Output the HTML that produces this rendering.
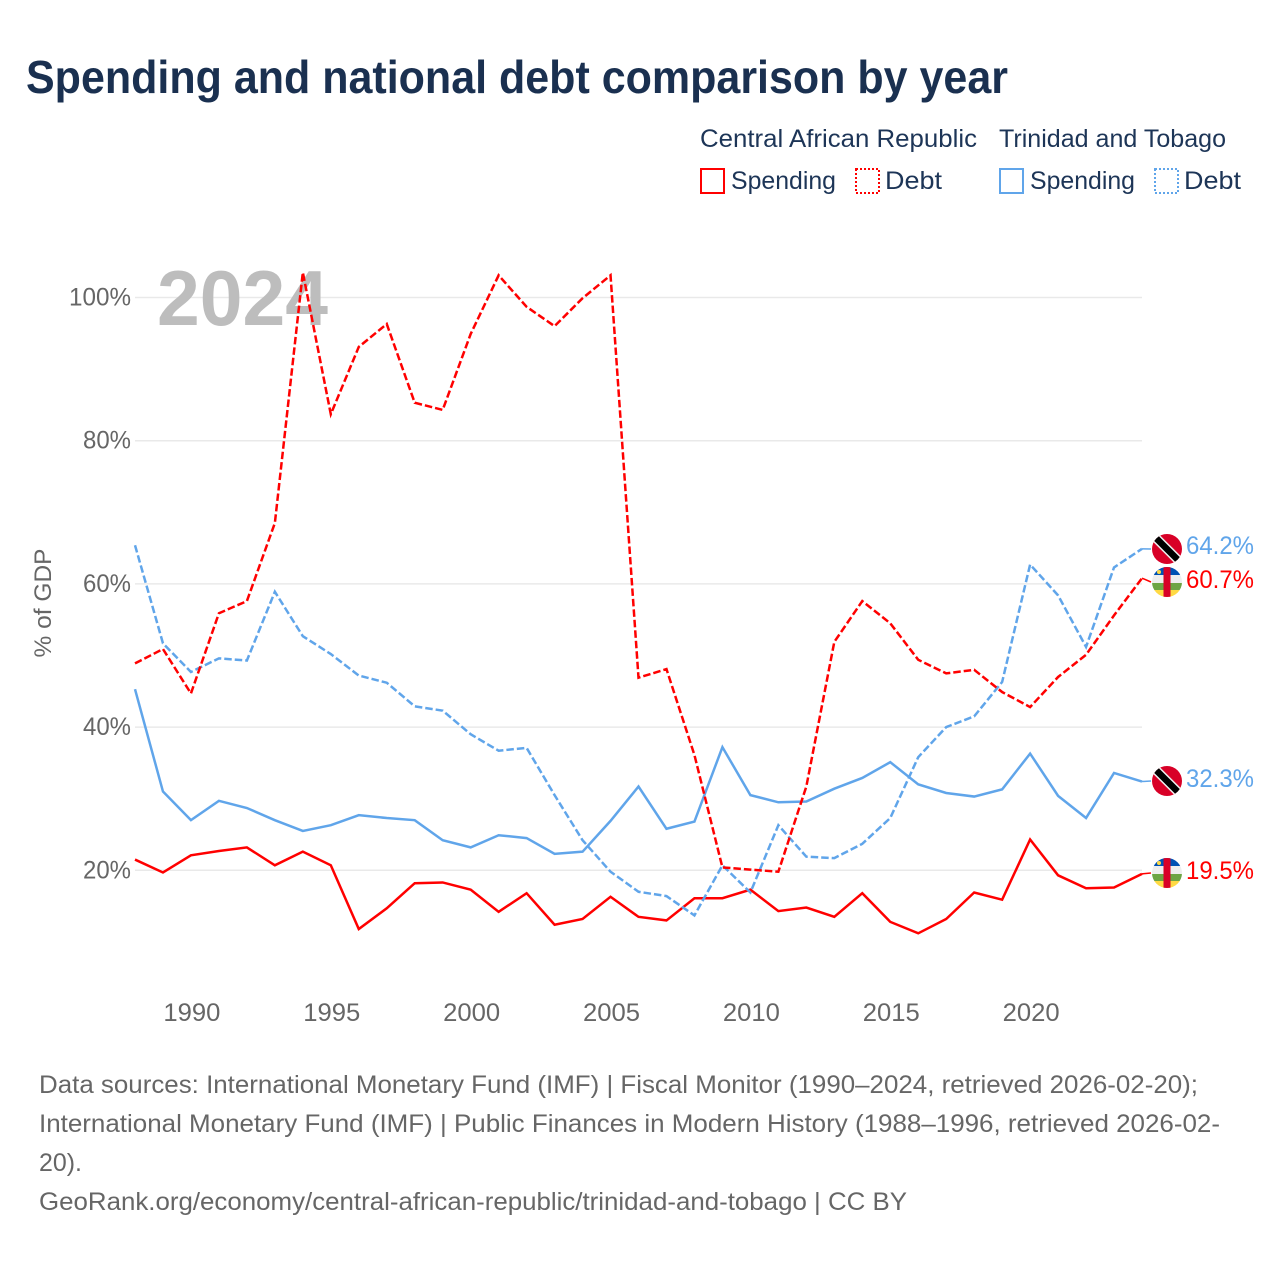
<!DOCTYPE html>
<html lang="en">
<head>
<meta charset="utf-8">
<title>Spending and national debt comparison by year</title>
<style>
html,body{margin:0;padding:0;background:#fff;width:1280px;height:1280px;overflow:hidden}
svg{display:block}
text{font-family:"Liberation Sans",sans-serif}
.leg{font-size:25px;fill:#1d3557}
.src{font-size:25px;fill:#666}
.tick{font-size:25px;fill:#666}
</style>
</head>
<body>
<svg id="chart" xmlns="http://www.w3.org/2000/svg" width="1280" height="1280" viewBox="0 0 1280 1280">
<defs>
<clipPath id="flag-clip"><circle cx="0" cy="0" r="15"/></clipPath>
<g id="flag-tt">
<g clip-path="url(#flag-clip)">
<rect x="-15" y="-15" width="30" height="30" fill="#d80027"/>
<line x1="-17" y1="-17" x2="17" y2="17" stroke="#f0f0f0" stroke-width="9.5"/>
<line x1="-17" y1="-17" x2="17" y2="17" stroke="#000" stroke-width="6.5"/>
</g>
</g>
<g id="flag-car">
<g clip-path="url(#flag-clip)">
<rect x="-15" y="-15" width="30" height="8" fill="#0052b4"/>
<rect x="-15" y="-7" width="30" height="8" fill="#eeeeee"/>
<rect x="-15" y="1" width="30" height="7" fill="#6da544"/>
<rect x="-15" y="8" width="30" height="7" fill="#ffda44"/>
<rect x="-3.5" y="-15" width="7" height="30" fill="#d80027"/>
<circle cx="-8" cy="-10" r="2" fill="#ffda44"/>
</g>
</g>
</defs>

<text x="26" y="93" font-size="46" font-weight="700" fill="#1a3050" textLength="982" lengthAdjust="spacingAndGlyphs">Spending and national debt comparison by year</text>

<g>
<text class="leg" x="700" y="147" textLength="277" lengthAdjust="spacingAndGlyphs">Central African Republic</text>
<text class="leg" x="999" y="147" textLength="227" lengthAdjust="spacingAndGlyphs">Trinidad and Tobago</text>
<rect x="701" y="169" width="23" height="24" fill="none" stroke="#ff0000" stroke-width="2"/>
<text class="leg" x="731" y="189" textLength="105" lengthAdjust="spacingAndGlyphs">Spending</text>
<rect x="856" y="169" width="23" height="24" fill="none" stroke="#ff0000" stroke-width="2" stroke-dasharray="2,2"/>
<text class="leg" x="885" y="189" textLength="57" lengthAdjust="spacingAndGlyphs">Debt</text>
<rect x="1000" y="169" width="23" height="24" fill="none" stroke="#60a5ea" stroke-width="2"/>
<text class="leg" x="1030" y="189" textLength="105" lengthAdjust="spacingAndGlyphs">Spending</text>
<rect x="1155" y="169" width="23" height="24" fill="none" stroke="#60a5ea" stroke-width="2" stroke-dasharray="2,2"/>
<text class="leg" x="1184" y="189" textLength="57" lengthAdjust="spacingAndGlyphs">Debt</text>
</g>

<text transform="translate(51,603) rotate(-90)" text-anchor="middle" font-size="24" fill="#666" textLength="109" lengthAdjust="spacingAndGlyphs">% of GDP</text>

<g id="grid"></g>
<text x="157" y="325" font-size="78" font-weight="700" fill="#bdbdbd" textLength="171" lengthAdjust="spacingAndGlyphs">2024</text>
<g id="yticks"></g>
<g id="xticks"></g>
<g id="series"></g>
<g id="ends"></g>

<g>
<text class="src" x="39" y="1093" textLength="1159" lengthAdjust="spacingAndGlyphs">Data sources: International Monetary Fund (IMF) | Fiscal Monitor (1990–2024, retrieved 2026-02-20);</text>
<text class="src" x="39" y="1132" textLength="1181" lengthAdjust="spacingAndGlyphs">International Monetary Fund (IMF) | Public Finances in Modern History (1988–1996, retrieved 2026-02-</text>
<text class="src" x="39" y="1171" textLength="43" lengthAdjust="spacingAndGlyphs">20).</text>
<text class="src" x="39" y="1210" textLength="868" lengthAdjust="spacingAndGlyphs">GeoRank.org/economy/central-african-republic/trinidad-and-tobago | CC BY</text>
</g>
</svg>

<script>
const years = [1988,1989,1990,1991,1992,1993,1994,1995,1996,1997,1998,1999,2000,2001,2002,2003,2004,2005,2006,2007,2008,2009,2010,2011,2012,2013,2014,2015,2016,2017,2018,2019,2020,2021,2022,2023,2024];
const carSpending = [21.5,19.7,22.1,22.7,23.2,20.7,22.6,20.7,11.8,14.7,18.2,18.3,17.3,14.2,16.8,12.4,13.2,16.3,13.5,13.0,16.1,16.1,17.3,14.3,14.8,13.5,16.8,12.8,11.2,13.2,16.9,15.9,24.3,19.3,17.5,17.6,19.5];
const carDebt = [48.9,50.9,44.7,55.9,57.6,68.5,103.5,83.7,93.1,96.3,85.3,84.3,94.9,103.1,98.7,96.0,99.9,103.1,46.9,48.1,36.1,20.4,20.1,19.8,31.7,51.9,57.6,54.5,49.4,47.5,48.0,44.9,42.8,47.0,50.1,55.6,60.8];
const ttSpending = [45.3,31.0,27.0,29.7,28.7,27.0,25.5,26.3,27.7,27.3,27.0,24.2,23.2,24.9,24.5,22.3,22.6,26.9,31.7,25.8,26.8,37.2,30.5,29.5,29.6,31.4,32.9,35.1,32.0,30.8,30.3,31.3,36.3,30.4,27.3,33.6,32.4];
const ttDebt = [65.4,51.7,47.7,49.6,49.3,58.9,52.7,50.2,47.2,46.2,42.9,42.3,39.0,36.7,37.1,30.5,24.2,19.8,17.0,16.4,13.7,20.7,16.9,26.3,21.9,21.7,23.7,27.3,35.8,40.0,41.5,46.3,62.7,58.4,51.2,62.3,64.9];
const yTickValues = [20,40,60,80,100];
const xTickValues = [1990,1995,2000,2005,2010,2015,2020];
const endLabelTexts = ["64.2%","60.7%","32.3%","19.5%"];

const NS = "http://www.w3.org/2000/svg";
const RED = "#ff0000";
const BLUE = "#60a5ea";
function xAt(year){ return 135 + (year - 1988) * (1142 - 135) / 36; }
function yAt(value){ return 1013.5 - value * 7.16; }
function make(tag, attrs, parent){
  const el = document.createElementNS(NS, tag);
  for (const k in attrs) el.setAttribute(k, attrs[k]);
  parent.appendChild(el);
  return el;
}

const grid = document.getElementById("grid");
const yticks = document.getElementById("yticks");
yTickValues.forEach(function(v){
  const line = make("line", {x1:135, x2:1142, y1:yAt(v), y2:yAt(v), stroke:"#e9e9e9", "stroke-width":1.5}, grid);
  
  
  const label = make("text", {x:131, y:yAt(v)+8, "text-anchor":"end", class:"tick", textLength:(String(v).length * 14 + 20), lengthAdjust:"spacingAndGlyphs"}, yticks);
  
  
  label.textContent = v + "%";
});

const xticks = document.getElementById("xticks");
xTickValues.forEach(function(y){
  const label = make("text", {x:xAt(y)+1, y:1021, "text-anchor":"middle", class:"tick", textLength:57, lengthAdjust:"spacingAndGlyphs"}, xticks);
  
  
  label.textContent = y;
});

const seriesGroup = document.getElementById("series");
function drawSeries(values, color, dashed, name){
  const pts = values.map(function(v, i){ return xAt(years[i]).toFixed(2) + "," + yAt(v).toFixed(2); }).join(" ");
  const attrs = {points:pts, fill:"none", stroke:color, "stroke-width":2.5, "stroke-linejoin":"miter"};
  if (dashed) attrs["stroke-dasharray"] = "7.5,3";
  const line = make("polyline", attrs, seriesGroup);
  
  
}
drawSeries(carSpending, RED, false, "line-car-spending");
drawSeries(ttSpending, BLUE, false, "line-tt-spending");
drawSeries(ttDebt, BLUE, true, "line-tt-debt");
drawSeries(carDebt, RED, true, "line-car-debt");

const ends = document.getElementById("ends");
function drawEnd(values, color, flag, labelIndex, flagY, textY, name){
  const last = values[values.length - 1];
  const conn = make("line", {x1:xAt(2024), y1:yAt(last), x2:1151, y2:flagY, stroke:color, "stroke-width":1.5}, ends);
  
  
  const use = make("use", {href:"#" + flag, transform:"translate(1167," + flagY + ")"}, ends);
  
  
  const label = make("text", {x:1254, y:textY, "text-anchor":"end", "font-size":25, fill:color, textLength:68, lengthAdjust:"spacingAndGlyphs"}, ends);
  
  
  label.textContent = endLabelTexts[labelIndex];
}
drawEnd(ttDebt, BLUE, "flag-tt", 0, 549, 554, "tt-debt");
drawEnd(carDebt, RED, "flag-car", 1, 582, 588, "car-debt");
drawEnd(ttSpending, BLUE, "flag-tt", 2, 781, 787, "tt-spending");
drawEnd(carSpending, RED, "flag-car", 3, 873, 879, "car-spending");
</script>
</body>
</html>
